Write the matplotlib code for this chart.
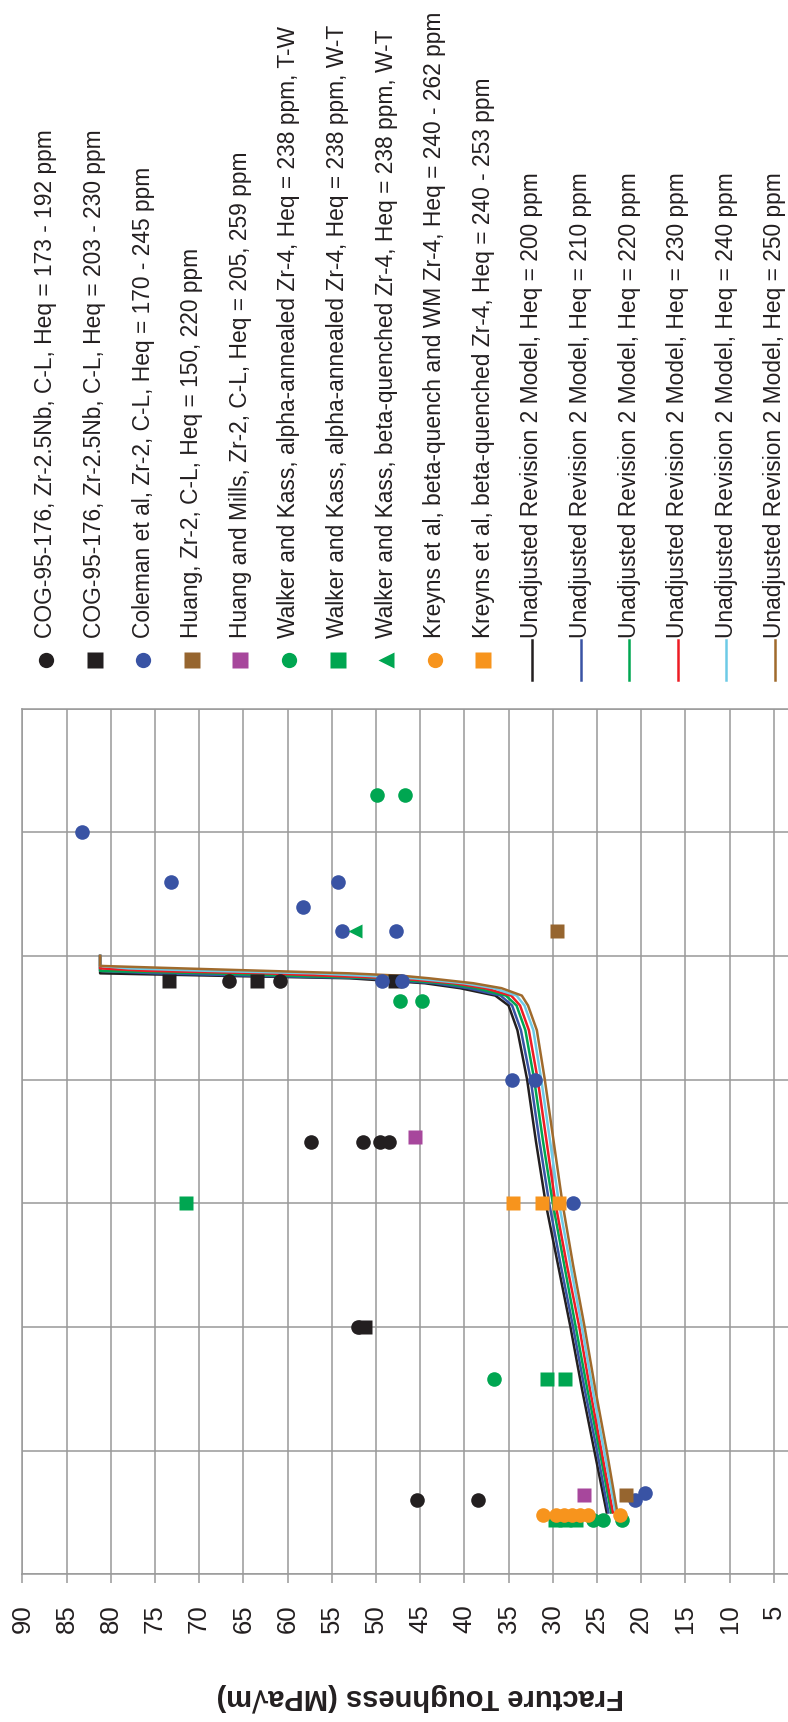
import matplotlib
matplotlib.use("Agg")
import matplotlib.pyplot as plt

plt.rcParams['font.family'] = ['Liberation Sans', 'DejaVu Sans']

# measured data: temperature (C) and fracture toughness (MPa sqrt m)
cog_circ_t = [190, 190, 125, 125, 125, 125, 50, -20, -20]
cog_circ_k = [66.6, 60.9, 57.3, 51.5, 49.5, 48.5, 52.0, 45.4, 38.5]
cog_sq_t = [190, 190, 190, 50]
cog_sq_k = [73.4, 63.5, 47.8, 51.2]
coleman_t = [250, 230, 230, 220, 210, 210, 190, 190, 150, 150, 100, -20, -17]
coleman_k = [83.3, 73.2, 54.3, 58.3, 53.8, 47.7, 49.3, 47.0, 34.6, 32.0, 27.7, 20.7, 19.6]
huang_t = [210, -18]
huang_k = [29.5, 21.7]
huang_mills_t = [127, -18]
huang_mills_k = [45.6, 26.5]
wk_alpha_tw_t = [265, 265, 182, 182, 29, -28, -28, -28]
wk_alpha_tw_k = [49.9, 46.7, 47.3, 44.8, 36.7, 25.4, 24.3, 22.2]
wk_alpha_wt_t = [100, 29, 29, -28, -28, -28]
wk_alpha_wt_k = [71.5, 30.6, 28.6, 29.7, 28.6, 27.4]
wk_beta_wt_t = [210]
wk_beta_wt_k = [52.4]
kreyns_wm_t = [-26, -26, -26, -26, -26, -26, -26]
kreyns_wm_k = [31.1, 29.6, 28.7, 27.8, 26.9, 26.0, 22.4]
kreyns_bq_t = [100, 100, 100]
kreyns_bq_k = [34.5, 31.2, 29.3]

# model curves
model_t = [-25, 0, 25, 50, 75, 100, 125, 150, 170, 180, 184, 187, 189, 191, 192, 193, 194, 195, 196, 200]
heq200 = [23.9, 25.3, 26.7, 28.0, 29.4, 30.8, 31.9, 32.9, 34.0, 35.0, 36.5, 40.5, 44.5, 53.0, 67.5, 81.2, 81.2, 81.2, 81.2, 81.2]
heq210 = [23.7, 25.0, 26.4, 27.7, 29.1, 30.4, 31.5, 32.5, 33.6, 34.6, 35.9, 39.6, 43.4, 51.2, 63.4, 75.0, 81.2, 81.2, 81.2, 81.2]
heq220 = [23.4, 24.7, 26.1, 27.4, 28.7, 30.0, 31.1, 32.1, 33.1, 34.1, 35.3, 38.6, 42.3, 49.4, 59.3, 68.5, 81.2, 81.2, 81.2, 81.2]
heq230 = [23.2, 24.5, 25.8, 27.0, 28.4, 29.7, 30.7, 31.7, 32.7, 33.7, 34.7, 37.7, 41.2, 47.6, 55.2, 62.5, 76.0, 81.2, 81.2, 81.2]
heq240 = [22.9, 24.2, 25.5, 26.7, 28.0, 29.3, 30.3, 31.3, 32.2, 33.2, 34.1, 36.7, 40.1, 45.8, 51.1, 57.0, 69.0, 78.0, 81.2, 81.2]
heq250 = [22.7, 23.9, 25.2, 26.4, 27.7, 28.9, 29.9, 30.9, 31.8, 32.8, 33.5, 35.8, 39.0, 44.0, 47.0, 53.0, 62.5, 72.0, 81.2, 81.2]

point_series = [
    ('COG-95-176, Zr-2.5Nb, C-L, Heq = 173 - 192 ppm', cog_circ_t, cog_circ_k, 'o', '#231f20'),
    ('COG-95-176, Zr-2.5Nb, C-L, Heq = 203 - 230 ppm', cog_sq_t, cog_sq_k, 's', '#231f20'),
    ('Coleman et al, Zr-2, C-L, Heq = 170 - 245 ppm', coleman_t, coleman_k, 'o', '#3953a4'),
    ('Huang, Zr-2, C-L, Heq = 150, 220 ppm', huang_t, huang_k, 's', '#96652f'),
    ('Huang and Mills, Zr-2, C-L, Heq = 205, 259 ppm', huang_mills_t, huang_mills_k, 's', '#a7479c'),
    ('Walker and Kass, alpha-annealed Zr-4, Heq = 238 ppm, T-W', wk_alpha_tw_t, wk_alpha_tw_k, 'o', '#00a651'),
    ('Walker and Kass, alpha-annealed Zr-4, Heq = 238 ppm, W-T', wk_alpha_wt_t, wk_alpha_wt_k, 's', '#00a651'),
    ('Walker and Kass, beta-quenched Zr-4, Heq = 238 ppm, W-T', wk_beta_wt_t, wk_beta_wt_k, '<', '#00a651'),
    ('Kreyns et al, beta-quench and WM Zr-4, Heq = 240 - 262 ppm', kreyns_wm_t, kreyns_wm_k, 'o', '#f7941d'),
    ('Kreyns et al, beta-quenched Zr-4, Heq = 240 - 253 ppm', kreyns_bq_t, kreyns_bq_k, 's', '#f7941d'),
]
line_series = [
    ('Unadjusted Revision 2 Model, Heq = 200 ppm', heq200, '#231f20'),
    ('Unadjusted Revision 2 Model, Heq = 210 ppm', heq210, '#3953a4'),
    ('Unadjusted Revision 2 Model, Heq = 220 ppm', heq220, '#00a651'),
    ('Unadjusted Revision 2 Model, Heq = 230 ppm', heq230, '#ed1c24'),
    ('Unadjusted Revision 2 Model, Heq = 240 ppm', heq240, '#6dcae6'),
    ('Unadjusted Revision 2 Model, Heq = 250 ppm', heq250, '#a06a2c'),
]

W, H = 788, 1722
fig = plt.figure(figsize=(W / 100, H / 100), dpi=100)

# chart is drawn turned a quarter turn: toughness runs right to left, temperature upward
ax = fig.add_axes([22.3 / W, 147.7 / H, 795.7 / W, 865.6 / H])
ax.set_xlim(90, 0)
ax.set_ylim(-50, 300)
ax.set_xticks(range(0, 95, 5))
ax.set_xticklabels([''] + [str(v) for v in range(5, 95, 5)])
ax.set_yticks(range(-50, 301, 50))
ax.grid(True, color='#999999', lw=1.1)
ax.set_axisbelow(True)
for s in ax.spines.values():
    s.set_color('#999999')
    s.set_linewidth(1.1)
ax.tick_params(axis='x', direction='out', length=6.5, width=1.1, color='#999999',
               pad=15, labelsize=18.5, labelrotation=90, labelcolor='#231f20')
ax.tick_params(axis='y', left=False, labelleft=False)
ax.set_xlabel('Fracture Toughness (MPa√m)', fontsize=21, fontweight='bold',
              rotation=180, color='#231f20')
ax.xaxis.set_label_coords(0.5, -0.1418)
ax.xaxis.label.set_va('center')

for lab, vals, col in line_series:
    ax.plot(vals, model_t, color=col, lw=1.8, zorder=3, solid_joinstyle='round')
for lab, t, k, mk, col in point_series:
    ax.plot(k, t, ls='none', marker=mk, ms=10.5, color=col, mec='none', zorder=4)

# legend, built by hand so the text can stand upright like the rest of the chart
lax = fig.add_axes([0, 0, 1, 1])
lax.set_xlim(0, W)
lax.set_ylim(H, 0)
lax.set_axis_off()
lax.patch.set_visible(False)

col_x0, col_dx = 46, 48.6
entries = [(p[0], p[3], p[4]) for p in point_series] + [(l[0], None, l[2]) for l in line_series]
for i, (lab, mk, col) in enumerate(entries):
    x = col_x0 + i * col_dx
    if mk:
        lax.plot([x], [660], ls='none', marker=mk, ms=11, color=col, mec='none')
    else:
        lax.plot([x, x], [640, 680], color=col, lw=1.8)
    lax.text(x, 638, lab, rotation=90, rotation_mode='anchor', ha='left', va='center',
             fontsize=16.4, color='#231f20')

fig.savefig('out.png', dpi=100)
